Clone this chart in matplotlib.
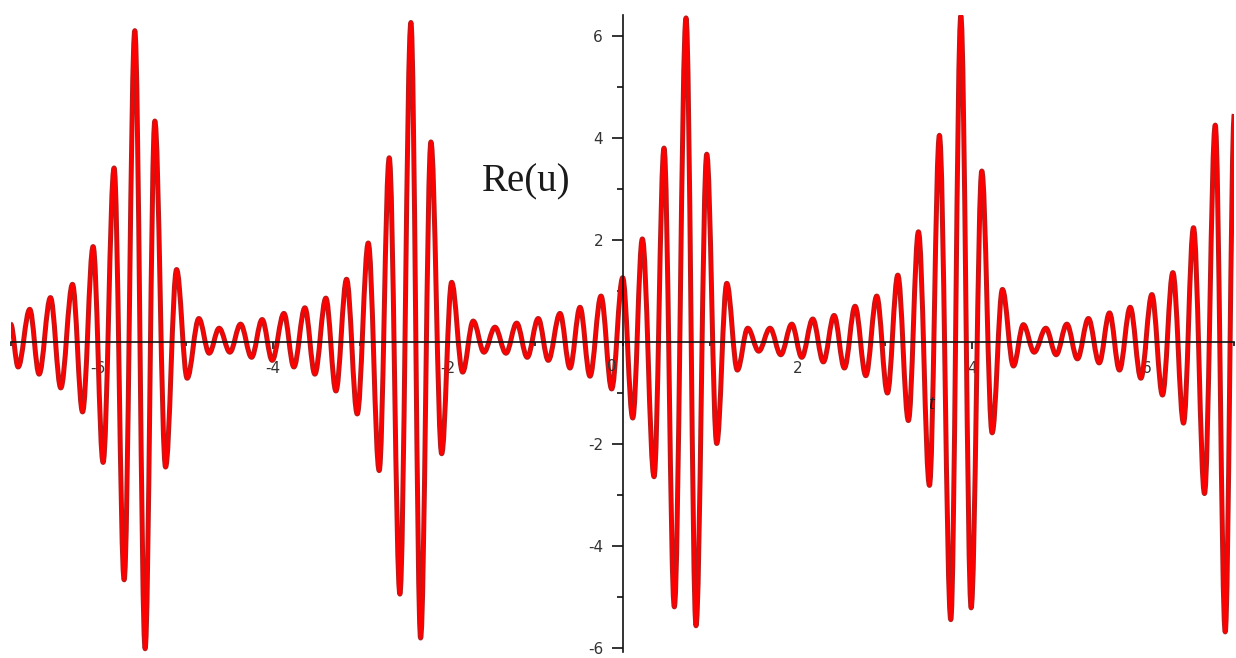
import matplotlib
matplotlib.use("Agg")
import matplotlib.pyplot as plt
import matplotlib.patheffects as pe
from matplotlib.path import Path
from matplotlib.patches import PathPatch
from matplotlib.ticker import MultipleLocator, FixedLocator

# extrema of Re(u) (t, value), left to right
t_ext = [-7.0, -6.915, -6.782, -6.675, -6.545, -6.427, -6.293, -6.178, -6.057, -5.943,
         -5.817, -5.702, -5.580, -5.462, -5.351, -5.228, -5.102, -4.981, -4.847, -4.729,
         -4.615, -4.492, -4.370, -4.244, -4.123, -4.008, -3.874, -3.760, -3.634, -3.520,
         -3.394, -3.279, -3.157, -3.035, -2.909, -2.784, -2.669, -2.547, -2.421, -2.310,
         -2.192, -2.069, -1.955, -1.829, -1.708, -1.585, -1.459, -1.333, -1.211, -1.090,
         -0.964, -0.849, -0.715, -0.601, -0.486, -0.372, -0.246, -0.124, 0.002, 0.117,
         0.227, 0.361, 0.475, 0.593, 0.727, 0.841, 0.964, 1.078, 1.193, 1.314,
         1.433, 1.559, 1.688, 1.811, 1.937, 2.051, 2.177, 2.298, 2.421, 2.539,
         2.661, 2.784, 2.909, 3.031, 3.150, 3.271, 3.386, 3.512, 3.626, 3.756,
         3.871, 3.989, 4.111, 4.229, 4.347, 4.473, 4.587, 4.710, 4.844, 4.962,
         5.084, 5.205, 5.331, 5.454, 5.572, 5.686, 5.809, 5.931, 6.057, 6.178,
         6.297, 6.419, 6.533, 6.659, 6.782, 6.896, 7.0]
re_u = [0.35, -0.49, 0.64, -0.63, 0.87, -0.90, 1.13, -1.37, 1.87, -2.36,
        3.41, -4.66, 6.10, -6.01, 4.33, -2.45, 1.42, -0.71, 0.46, -0.22,
        0.27, -0.20, 0.35, -0.30, 0.44, -0.36, 0.56, -0.49, 0.67, -0.63,
        0.86, -0.96, 1.23, -1.41, 1.94, -2.52, 3.61, -4.94, 6.26, -5.80,
        3.92, -2.19, 1.17, -0.59, 0.41, -0.20, 0.29, -0.22, 0.37, -0.30,
        0.46, -0.36, 0.56, -0.51, 0.68, -0.67, 0.90, -0.92, 1.26, -1.49,
        2.02, -2.64, 3.80, -5.19, 6.35, -5.56, 3.68, -1.99, 1.15, -0.55,
        0.27, -0.18, 0.27, -0.25, 0.35, -0.30, 0.45, -0.39, 0.52, -0.51,
        0.70, -0.66, 0.90, -1.00, 1.31, -1.54, 2.16, -2.81, 4.05, -5.44,
        6.39, -5.21, 3.35, -1.78, 1.03, -0.47, 0.34, -0.20, 0.27, -0.25,
        0.35, -0.33, 0.46, -0.41, 0.57, -0.55, 0.68, -0.71, 0.93, -1.04,
        1.36, -1.59, 2.24, -2.97, 4.25, -5.68, 4.46]

x_labels = [-6, -4, -2, 2, 4, 6]
y_labels = [-6, -4, -2, 2, 4, 6]

plt.rcParams['axes.unicode_minus'] = False

fig = plt.figure(figsize=(12.36, 6.58), dpi=100)
ax = fig.add_axes([0.00866, 0.00866, 0.98997, 0.968])

# smooth the swings between consecutive extrema with bezier segments
# (flat tangent at each extremum, like a sine half-wave)
verts = [(t_ext[0], re_u[0])]
codes = [Path.MOVETO]
for i in range(len(t_ext) - 1):
    dt = t_ext[i + 1] - t_ext[i]
    verts += [(t_ext[i] + 0.36 * dt, re_u[i]),
              (t_ext[i + 1] - 0.36 * dt, re_u[i + 1]),
              (t_ext[i + 1], re_u[i + 1])]
    codes += [Path.CURVE4] * 3
courbe = PathPatch(Path(verts, codes), fill=False, edgecolor='#ff0000', lw=2.2,
                   joinstyle='round', zorder=2,
                   path_effects=[pe.Stroke(linewidth=3.6, foreground='#b02020'), pe.Normal()])
ax.add_patch(courbe)

ax.set_xlim(-7, 7)
ax.set_ylim(-6.08, 6.4)

for s in ['top', 'right']:
    ax.spines[s].set_visible(False)
ax.spines['left'].set_position(('data', 0))
ax.spines['bottom'].set_position(('data', 0))
for s in ['left', 'bottom']:
    ax.spines[s].set_linewidth(1.2)
    ax.spines[s].set_color('#111111')
    ax.spines[s].set_zorder(3)

ax.xaxis.set_major_locator(FixedLocator(x_labels))
ax.xaxis.set_minor_locator(MultipleLocator(1))
ax.yaxis.set_major_locator(FixedLocator(y_labels))
ax.yaxis.set_minor_locator(MultipleLocator(1))
ax.set_xticklabels([str(v) for v in x_labels])
ax.set_yticklabels([str(v) for v in y_labels])

ax.tick_params(axis='x', which='major', direction='out', length=5, width=1.2, pad=9,
               labelsize=11, labelcolor='#333333', color='#111111')
ax.tick_params(axis='x', which='minor', direction='out', length=3, width=1.2, color='#111111')
ax.tick_params(axis='y', which='major', direction='out', length=8, width=1.2, pad=6,
               labelsize=11, labelcolor='#333333', color='#111111')
ax.tick_params(axis='y', which='minor', direction='out', length=4, width=1.2, color='#111111')

ax.annotate('0', xy=(0, 0), xytext=(-4, -12), textcoords='offset points',
            ha='right', va='top', fontsize=11, color='#333333')

ax.text(-1.106, 3.14, 'Re(u)', fontsize=28, family='Liberation Serif',
        ha='center', va='center', color='#1a1a1a')
ax.text(3.53, -1.22, 't', fontsize=15, family='Liberation Serif', style='italic',
        ha='center', va='center', color='#1a1a1a')

fig.savefig('out.png', dpi=100)
